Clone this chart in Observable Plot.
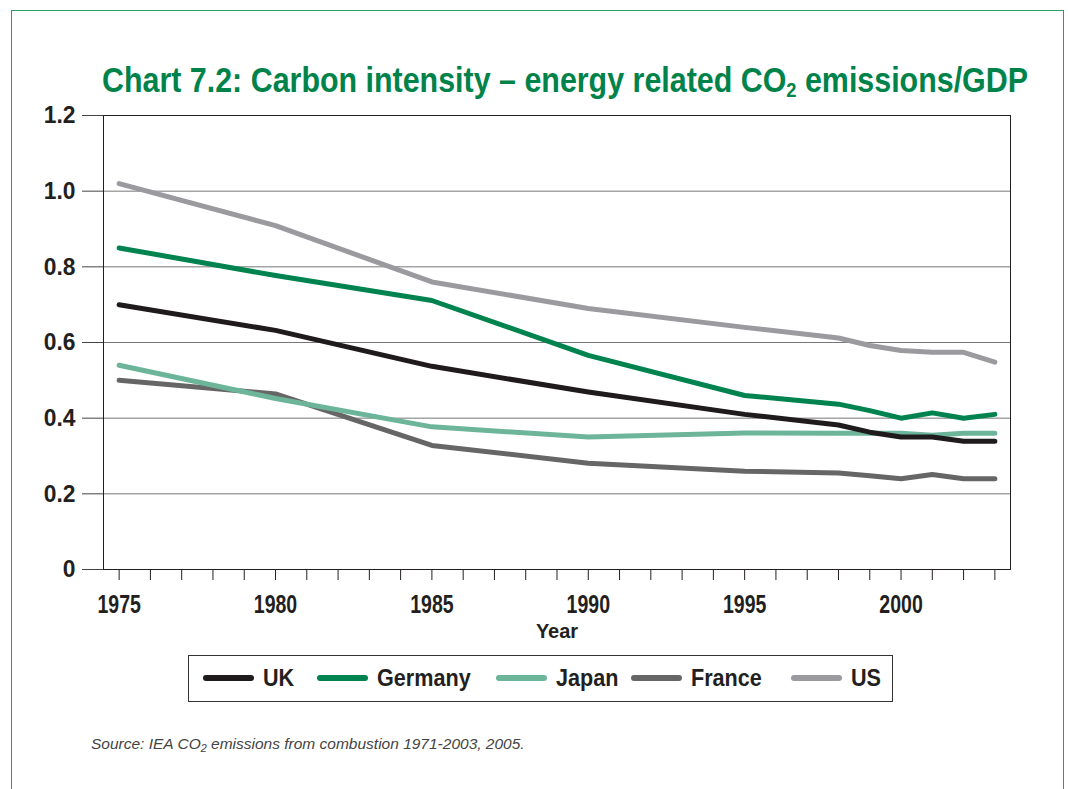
<!DOCTYPE html>
<html>
<head>
<meta charset="utf-8">
<script src="https://cdn.jsdelivr.net/npm/d3@7"></script>
<script src="https://cdn.jsdelivr.net/npm/@observablehq/plot@0.6"></script>
<style>
  html, body { margin: 0; padding: 0; background: #fff; }
  #wrap { position: relative; width: 1068px; height: 789px; overflow: hidden; background: #fff; }
  #border { position: absolute; left: 11px; top: 10px; width: 1053px; height: 800px; border: 1.5px solid #2f9e64; box-sizing: border-box; }
  #title { position: absolute; left: 102px; top: 60px; white-space: nowrap; font-family: "Liberation Sans", sans-serif; font-weight: bold; font-size: 35px; line-height: 40px; color: #00834a; transform-origin: 0 0; }
  #title sub { font-size: 0.6em; vertical-align: -0.25em; line-height: 0; }
  #chart { position: absolute; left: 0; top: 100px; }
  #legend { position: absolute; left: 188px; top: 655px; width: 705px; height: 47px; border: 1.5px solid #333; box-sizing: border-box; font-family: "Liberation Sans", sans-serif; font-weight: bold; font-size: 24px; color: #231f20; }
  .item { position: absolute; top: 0; height: 44px; display: flex; align-items: center; }
  .sw { display: inline-block; width: 51px; height: 6px; border-radius: 3px; margin-right: 9px; }
  .lt { display: inline-block; white-space: nowrap; transform-origin: 0 50%; }
  #source { position: absolute; left: 91px; top: 735px; font-family: "Liberation Sans", sans-serif; font-style: italic; font-size: 15.5px; color: #444; white-space: nowrap; }
  #source sub { font-size: 0.7em; vertical-align: -0.3em; line-height: 0; }
</style>
</head>
<body>
<div id="wrap">
  <div id="border"></div>
  <div id="title">Chart 7.2: Carbon intensity – energy related CO<sub>2</sub> emissions/GDP</div>
  <div id="chart"></div>
  <div id="legend"></div>
  <div id="source">Source: IEA CO<sub>2</sub> emissions from combustion 1971-2003, 2005.</div>
</div>
<script>
const years   = [1975, 1980, 1985, 1990, 1995, 1998, 1999, 2000, 2001, 2002, 2003];
const uk      = [0.70, 0.632, 0.537, 0.469, 0.410, 0.382, 0.363, 0.350, 0.350, 0.339, 0.339];
const germany = [0.85, 0.777, 0.711, 0.566, 0.460, 0.437, 0.420, 0.400, 0.414, 0.400, 0.410];
const japan   = [0.54, 0.452, 0.377, 0.350, 0.361, 0.360, 0.360, 0.360, 0.355, 0.360, 0.360];
const france  = [0.50, 0.464, 0.328, 0.281, 0.260, 0.255, 0.248, 0.240, 0.251, 0.240, 0.240];
const us      = [1.02, 0.909, 0.760, 0.690, 0.640, 0.612, 0.592, 0.579, 0.574, 0.574, 0.548];

const countries = ["UK", "Germany", "Japan", "France", "US"];
const colors    = ["#1f1a1c", "#00834f", "#6db59a", "#666666", "#9b9b9f"];
const drawOrder = ["US", "France", "Japan", "UK", "Germany"];
const seriesValues = {UK: uk, Germany: germany, Japan: japan, France: france, US: us};

const yTicks = [0, 0.2, 0.4, 0.6, 0.8, 1.0, 1.2];
const gridTicks = [0.2, 0.4, 0.6, 0.8, 1.0];
const xTickYears = d3.range(1975, 2004);

const rows = [];
for (const c of drawOrder) {
  seriesValues[c].forEach((v, i) => rows.push({country: c, year: years[i], value: v}));
}

const font = "'Liberation Sans', sans-serif";

const chart = Plot.plot({
  width: 1068,
  height: 544,
  marginLeft: 103,
  marginRight: 58,
  marginTop: 15,
  marginBottom: 75,
  style: {fontFamily: font, fontWeight: "bold", color: "#231f20", background: "transparent"},
  x: {domain: [1974.5, 2003.5], label: null},
  y: {domain: [0, 1.2], label: null},
  color: {domain: countries, range: colors},
  marks: [
    Plot.gridY(gridTicks, {stroke: "#777", strokeOpacity: 1, strokeWidth: 1}),
    Plot.frame({stroke: "#231f20", strokeWidth: 1}),
    Plot.axisY(yTicks, {
      tickSize: 21, tickPadding: 7, stroke: "#444",
      tickFormat: d => d === 0 ? "0" : d.toFixed(1),
      fontSize: 24, fill: "#231f20", label: null
    }),
    Plot.axisX(xTickYears, {
      tickSize: 11, tickPadding: 15, stroke: "#231f20",
      tickFormat: d => d % 5 === 0 ? String(d) : "",
      fontSize: 25, fill: "#231f20", label: null
    }),
    Plot.axisX([], {
      label: "Year", labelAnchor: "center", labelArrow: "none", labelOffset: 68,
      fontSize: 20, fill: "#231f20", tickSize: 0
    }),
    Plot.line(rows, {
      x: "year", y: "value", z: "country", stroke: "country",
      strokeWidth: 5, strokeLinecap: "round", strokeLinejoin: "round"
    })
  ]
});
document.getElementById("chart").appendChild(chart);

// Condense axis tick labels (reference face is a condensed humanist sans)
function condense(selector, factor) {
  chart.querySelectorAll(selector).forEach(t => {
    if (!t.textContent) return;
    const len = t.getComputedTextLength();
    t.setAttribute("textLength", (len * factor).toFixed(1));
    t.setAttribute("lengthAdjust", "spacingAndGlyphs");
  });
}
condense('g[aria-label="x-axis tick label"] text', 0.78);
condense('g[aria-label="y-axis tick label"] text', 0.95);

// Legend
const legend = document.getElementById("legend");
const itemLeft = [14, 128, 307, 442, 602];
countries.forEach((c, i) => {
  const item = document.createElement("div");
  item.className = "item";
  item.style.left = itemLeft[i] + "px";
  const sw = document.createElement("span");
  sw.className = "sw";
  sw.style.background = colors[i];
  const t = document.createElement("span");
  t.className = "lt";
  t.textContent = c;
  item.appendChild(sw);
  item.appendChild(t);
  legend.appendChild(item);
  const w = t.getBoundingClientRect().width;
  t.style.transform = "scaleX(0.9)";
  t.style.width = (w * 0.9) + "px";
});

// Fit title width to reference
const title = document.getElementById("title");
const tw = title.getBoundingClientRect().width;
title.style.transform = `scaleX(${926 / tw})`;
</script>
</body>
</html>
